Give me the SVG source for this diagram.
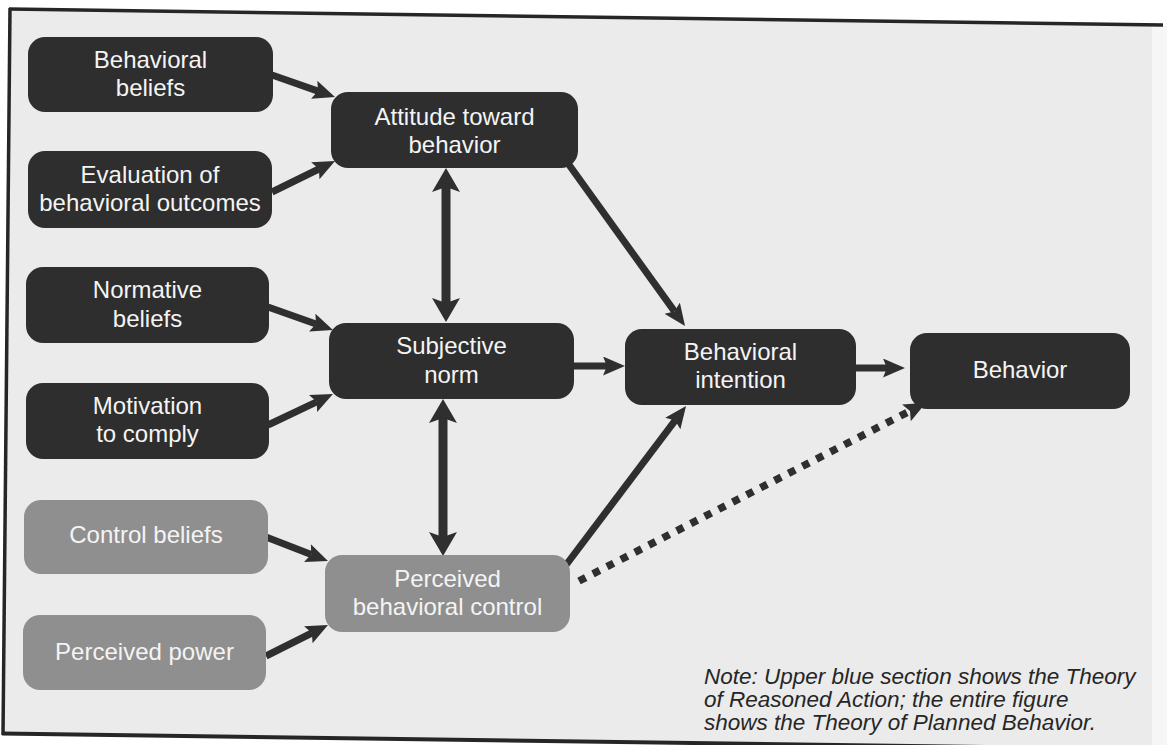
<svg xmlns="http://www.w3.org/2000/svg" width="1167" height="745" viewBox="0 0 1167 745">
<style>
.dk{fill:#2e2e2e}
.gy{fill:#8f8f8f}
.t{font-family:"Liberation Sans",Arial,sans-serif;font-size:24px;fill:#f4f4f4;text-anchor:middle}
.c{stroke:#2f2f2f;stroke-width:7;fill:none;marker-end:url(#ah)}
.v{stroke:#2f2f2f;stroke-width:9;fill:none;marker-end:url(#bh);marker-start:url(#bh)}
.d{stroke:#2f2f2f;stroke-width:7.5;fill:none;stroke-dasharray:7.5 8.2;marker-end:url(#ah)}
.note{font-family:"Liberation Sans",Arial,sans-serif;font-size:22.5px;font-style:italic;fill:#262626}
</style>
<defs>
<marker id="ah" markerUnits="userSpaceOnUse" markerWidth="24" markerHeight="20" refX="4" refY="9.5" orient="auto">
<path d="M0,0 L22,9.5 L0,19 L4,9.5 z" fill="#2f2f2f"/>
</marker>
<marker id="bh" markerUnits="userSpaceOnUse" markerWidth="26" markerHeight="30" refX="5" refY="14" orient="auto-start-reverse">
<path d="M0,0 L24,14 L0,28 L5,14 z" fill="#2f2f2f"/>
</marker>
</defs>
<rect x="0" y="0" width="1167" height="745" fill="#ffffff"/>
<polygon points="10,9 1163,25 1156,749 3,733" fill="#ebebeb"/>
<rect x="1152" y="26" width="15" height="719" fill="#f6f6f6"/>
<g id="frame" stroke="#262626" fill="none">
<line x1="9" y1="9" x2="1163" y2="25" stroke-width="3.5"/>
<line x1="10" y1="8" x2="3" y2="735" stroke-width="3.5"/>
<line x1="2" y1="733.5" x2="1167" y2="749.5" stroke-width="4"/>
</g>
<g id="connectors">
<line class="c" x1="272" y1="75" x2="318" y2="91.1"/>
<line class="c" x1="272" y1="192" x2="318.9" y2="169"/>
<line class="c" x1="268" y1="307" x2="316" y2="324"/>
<line class="c" x1="268" y1="425" x2="316.7" y2="401.8"/>
<line class="c" x1="266" y1="537" x2="311.2" y2="554.5"/>
<line class="c" x1="266" y1="656" x2="311.9" y2="633"/>
<line class="c" x1="567" y1="162" x2="674.5" y2="311.4"/>
<line class="c" x1="573" y1="366" x2="607" y2="366"/>
<line class="c" x1="855" y1="368" x2="887" y2="368"/>
<line class="c" x1="566" y1="565" x2="675.2" y2="420.4"/>
<line class="v" x1="446" y1="187" x2="446" y2="303"/>
<line class="v" x1="443" y1="418" x2="443" y2="537"/>
<line class="d" x1="579" y1="581" x2="910" y2="411"/>
</g>
<g id="n_bb"><rect class="dk" x="28" y="37" width="245" height="75" rx="17"/><text class="t" x="150.5" y="68">Behavioral</text><text class="t" x="150.5" y="96">beliefs</text></g>
<g id="n_ev"><rect class="dk" x="28" y="151" width="244" height="77" rx="17"/><text class="t" x="150" y="183">Evaluation of</text><text class="t" x="150" y="211">behavioral outcomes</text></g>
<g id="n_att"><rect class="dk" x="331" y="92" width="247" height="76" rx="17"/><text class="t" x="454.5" y="125">Attitude toward</text><text class="t" x="454.5" y="153">behavior</text></g>
<g id="n_nb"><rect class="dk" x="26" y="267" width="243" height="76" rx="17"/><text class="t" x="147.5" y="298">Normative</text><text class="t" x="147.5" y="327">beliefs</text></g>
<g id="n_mc"><rect class="dk" x="26" y="383" width="243" height="76" rx="17"/><text class="t" x="147.5" y="414">Motivation</text><text class="t" x="147.5" y="442">to comply</text></g>
<g id="n_sn"><rect class="dk" x="329" y="323" width="245" height="76" rx="17"/><text class="t" x="451.5" y="354">Subjective</text><text class="t" x="451.5" y="383">norm</text></g>
<g id="n_bi"><rect class="dk" x="625" y="329" width="231" height="76" rx="17"/><text class="t" x="740.5" y="360">Behavioral</text><text class="t" x="740.5" y="388">intention</text></g>
<g id="n_beh"><rect class="dk" x="910" y="333" width="220" height="76" rx="17"/><text class="t" x="1020" y="378">Behavior</text></g>
<g id="n_cb"><rect class="gy" x="24" y="500" width="244" height="74" rx="17"/><text class="t" x="146" y="543">Control beliefs</text></g>
<g id="n_pp"><rect class="gy" x="23" y="615" width="243" height="75" rx="17"/><text class="t" x="144.5" y="660">Perceived power</text></g>
<g id="n_pbc"><rect class="gy" x="325" y="555" width="245" height="77" rx="17"/><text class="t" x="447.5" y="587">Perceived</text><text class="t" x="447.5" y="615">behavioral control</text></g>
<g id="note">
<text class="note" x="704" y="684">Note: Upper blue section shows the Theory</text>
<text class="note" x="704" y="707">of Reasoned Action; the entire figure</text>
<text class="note" x="704" y="730">shows the Theory of Planned Behavior.</text>
</g>
</svg>
